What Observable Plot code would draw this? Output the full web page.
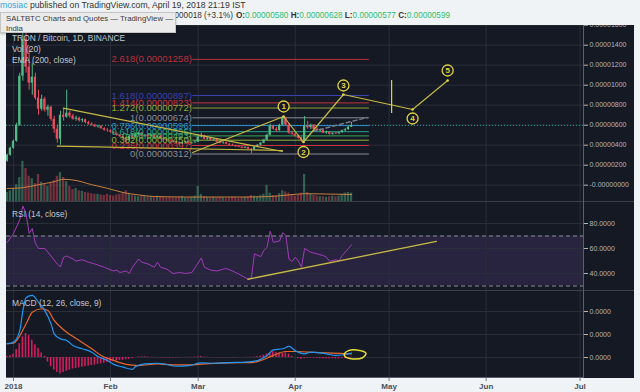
<!DOCTYPE html>
<html><head><meta charset="utf-8">
<script src="https://cdn.jsdelivr.net/npm/d3@7"></script>
<script src="https://cdn.jsdelivr.net/npm/@observablehq/plot@0.6"></script>
<style>
html,body{margin:0;padding:0;}
body{width:640px;height:392px;overflow:hidden;background:#f0f3f6;font-family:"Liberation Sans",Arial,sans-serif;position:relative;}
.abs{position:absolute;}
#dark{left:6px;top:25px;width:628px;height:353px;background:#151924;}
.pane{left:0;}
.hline{height:1px;background:#3b3f4a;left:6px;width:628px;}
.legend{color:#c3c6ce;font-size:8.4px;line-height:10px;white-space:nowrap;left:12px;}
#macd g[aria-label="x-axis tick label"]{font-weight:bold;font-size:8px;fill:#4c4f59;}
.hdr{font-size:8.7px;line-height:10px;white-space:nowrap;color:#333;}
.g{color:#2ebd6b;}
#tip{left:0;top:12px;width:176px;height:21px;background:#ebebeb;border:1px solid #c4c4c4;box-sizing:border-box;box-shadow:0 1px 2px rgba(0,0,0,0.25);font-size:7.8px;line-height:9.5px;color:#3a3a3a;padding:1px 0 0 5px;white-space:nowrap;}
</style></head><body>
<div id="dark" class="abs"></div>
<div id="price" class="abs pane" style="top:25px"></div>
<div id="vol" class="abs pane" style="top:141px"></div>
<div id="rsi" class="abs pane" style="top:202px"></div>
<div id="macd" class="abs pane" style="top:291px"></div>
<div class="abs hline" style="top:201px"></div>
<div class="abs hline" style="top:290px"></div>
<div class="abs" style="left:583px;top:25px;width:1px;height:353px;background:#5d606b"></div>
<div class="abs" style="left:6px;top:377px;width:578px;height:1px;background:#5d606b"></div>

<div class="abs legend" style="top:33px">TRON / Bitcoin, 1D, BINANCE</div>
<div class="abs legend" style="top:44px">Vol (20)</div>
<div class="abs legend" style="top:54.5px">EMA (200, close)</div>
<div class="abs legend" style="top:209px">RSI (14, close)</div>
<div class="abs legend" style="top:298px">MACD (12, 26, close, 9)</div>

<div class="abs hdr" style="left:0;top:0"><span style="color:#3aa4dc">mosiac</span> published on TradingView.com, April 19, 2018 21:19 IST</div>
<div class="abs hdr" style="right:407px;top:11px;font-size:8.2px">TRXBTC, 1D 0.00000599 ▲ +0.00000018 (+3.1%)</div>
<div class="abs hdr" style="left:236px;top:11px;font-size:8.2px"><b>O:</b><span class="g">0.00000580</span> <b>H:</b><span class="g">0.00000628</span> <b>L:</b><span class="g">0.00000577</span> <b>C:</b><span class="g">0.00000599</span></div>
<div id="tip" class="abs">SALTBTC Charts and Quotes — TradingView —<br>India</div>

<script>
// ---------- data (prices in satoshi, 1e-8 BTC; day = days since 2018-01-01) ----------
const candleDays = d3.range(-2, 109);
const opens = [
240,300,370,440,600,1090,1460,1180,1020,1080,
870,760,860,750,780,660,560,460,700,680,
720,690,660,670,645,655,625,610,600,585,
590,565,550,545,530,515,500,485,470,450,
490,480,505,520,490,500,485,500,475,490,
465,455,445,440,430,420,410,425,435,420,
425,430,480,495,460,470,450,455,430,420,
425,410,400,395,385,380,370,378,360,350,
380,400,420,450,500,590,560,545,600,670,
600,520,510,490,470,445,590,575,600,560,
545,550,520,530,510,520,515,525,545,555,
580];
const highs = [
310,380,450,620,1120,1720,1640,1380,1220,1120,
950,900,880,800,790,690,600,740,760,950,
740,710,690,680,665,660,640,625,610,600,
595,575,565,555,540,525,510,495,480,500,
510,520,530,525,505,510,510,505,495,495,
475,465,455,445,440,425,430,440,440,430,
440,500,520,500,480,475,465,460,440,435,
430,415,410,400,395,385,385,380,365,385,
405,425,460,510,610,600,575,610,687,680,
615,540,525,500,480,687,640,610,605,575,
560,555,540,535,525,530,530,550,565,590,
628];
const lows = [
230,290,360,430,590,1040,1120,950,900,850,
700,740,730,690,640,520,420,400,640,670,
670,650,640,630,625,615,600,590,575,570,
560,540,530,520,505,490,475,455,410,440,
470,470,490,480,470,480,480,470,465,460,
445,435,425,420,410,400,405,415,415,410,
415,425,470,455,450,445,440,425,415,410,
405,395,390,380,375,365,365,355,312,345,
375,395,415,445,495,550,530,540,595,590,
510,500,480,460,427,440,560,555,555,535,
530,515,510,500,500,505,505,520,535,550,
577];
const closes = [
300,370,440,600,1090,1460,1180,1020,1080,870,
760,860,750,780,660,560,460,700,680,720,
690,660,670,645,655,625,610,600,585,590,
565,550,545,530,515,500,485,470,450,490,
480,505,520,490,500,485,500,475,490,465,
455,445,440,430,420,410,425,435,420,425,
430,480,495,460,470,450,455,430,420,425,
410,400,395,385,380,370,378,360,350,380,
400,420,450,500,590,560,545,600,670,600,
520,510,490,470,445,590,575,600,560,545,
550,520,530,510,520,515,525,545,555,580,
599];
const volumes = [
15,18,22,28,40,67,55,42,38,30,
45,32,28,25,30,35,42,48,40,33,
25,20,22,18,17,15,14,13,12,12,
11,10,12,10,9,11,12,14,18,13,
10,9,8,10,9,8,8,7,9,8,
7,6,7,6,6,7,8,6,6,7,
9,25,12,8,7,6,7,6,7,6,
5,6,7,6,5,6,7,8,10,9,
8,10,12,27,14,10,9,13,18,16,
14,10,9,11,14,45,15,12,10,9,
8,8,7,8,9,8,9,12,14,15,
14];
const volMaDays = [-2,3,8,13,16,20,25,30,35,40,45,55,65,75,82,88,93,100,108];
const volMaVals = [21.7,23,28,33,37,35,28,22,15,11,8.3,7.5,7.5,7.5,8.3,11,13,12.5,11.7];

const priceTicks = [0,200,400,600,800,1000,1200,1400,1600];
const monthTicks = [0,31,59,90,120,151,181];
const monthLabels = ["2018","Feb","Mar","Apr","May","Jun","Jul"];

const fibLevels = ["2.618","1.618","1.414","1.272","1","0.786","0.618","0.5","0.382","0.236","0"];
const fibVals = [1258,897,823,772,674,596,535,493,450,397,312];
const fibColors = ["#b8323d","#3a3fb0","#c9333e","#8fa83a","#8a8c94","#2b8fcf","#22a58a","#3aa85a","#8fb33a","#c9333e","#8a8c94"];
const fibStartDay = 57.3, fibEndDay = 113.7;
const lastClose = 599;

const waveDays = [57.2, 86.3, 92.65, 105.4, 127.5, 138.7];
const waveVals = [327, 687, 432, 907, 757, 1047];
const waveNames = ["", "1", "2", "3", "4", "5"];
const waveOffsets = [0, -10, 10, -9, 9, -10];
const triUpperDays = [15.9, 85.9], triUpperVals = [770, 337];
const triLowerDays = [14, 85.9], triLowerVals = [390, 347];
const vLineDay = [120.8], vLineLow = [717], vLineHigh = [1047];
const dashDays = [95.5, 113], dashVals = [537, 677];

const rsiDays = [-2,0,2,3,4,5,6,7,8,10,12,14,15,16,17,19,20,22,24,26,29,32,33,34,36,37,38,40,41,43,45,46,47,49,51,53,55,57,60,61,63,65,67,68,70,72,75,76,77,79,80,81,82,83,85,86,87,88,89,90,91,92,93,95,97,99,100,101,103,104,105,107,108];
const rsiVals = [65,72,83,94,88,72,76,64,60,60,54,47.6,45.4,53,54,51.6,50,51,49,47.6,45,42,42.7,40.8,42,40,45,51.6,49,47.6,45,49,45,43.5,40,40.8,40,40.8,52.4,45,42.7,42,43.5,44,42,39.5,35.4,36.8,55.7,53.5,58.4,61,73.8,65,66,72.7,70.5,51.6,49.5,53,50,45,60,57,55.7,54.3,53,49.7,51,50,54.3,60,63];
const rsiTicks = [40,60,80];
const rsiBand = [30,70];
const rsiTrendDays = [74.9, 135.1], rsiTrendVals = [35.4, 65.7];

const macdDays = [-2,0,2,3,4,6,8,10,12,13,15,17,19,22,25,27,30,32,35,38,39,42,46,48,52,56,60,64,69,74,78,81,83,86,88,90,93,95,98,100,103,106,108];
const macdVals = [30,33.5,58.5,102,130,135,120,102,73,51.5,40.5,37,26,19,11.5,2,-6.5,-15,-21,-26,-19.5,-14,-12.5,-14,-19,-17.5,-11.5,-12.5,-11,-10,-6.5,4.5,16.5,19,24,15,8,11.5,10,8,4.5,6.5,9.5];
const signalDays = [-2,0,4,6,9,11,13,17,21,25,28,32,36,40,46,51,56,61,69,76,79,83,87,91,96,102,108];
const signalVals = [30,31,73,98.5,106,102,80.5,55,37,19,4.5,-6.5,-15,-17.5,-14,-16,-16,-14,-11.5,-11,-6.5,4.5,13,13,11,9.5,8];
const macdHist = [
2.5,4,7.5,17.5,30,45,52,47.5,37.5,27.5,
20,10,2.5,-10,-20,-27.5,-32.5,-36,-32.5,-30,
-27.5,-25,-24,-22.5,-21,-20,-19,-17.5,-16.5,-15,
-14,-12.5,-11,-10,-9,-7.5,-6.5,-6,-5,-4,
-2.5,0,1,1.5,1.5,1,0.5,0.5,0,-0.5,
-1,-1,-1.5,-1,-1,-0.5,0,0.5,0.5,0.5,
1,1.5,2,1,0.5,0,-0.5,-0.5,-0.5,-0.5,
-0.5,-0.5,-0.5,-0.5,0,0,0.5,0.5,0.5,1,
2,3,5,7.5,10,12.5,11,10,9,10,
7.5,2.5,0,-2.5,-4,-2.5,-1.5,-1,-1.5,-2,
-2.5,-3,-3,-3,-2.5,-3,-3,-2.5,-2,-1.5,
1];
const macdTicks = [0,50,100];
const loopDays = [105.7,107,109.6,112.6,111.5,108.3,105.9];
const loopVals = [8,15,16.5,9.5,-0.5,-3,2];

// ---------- build ----------
const UP = "#53b987", DOWN = "#eb4d5c", GRID = "#2a2e39", YEL = "#c5b944", YEL2 = "#e3d443";
const xDomain = [-2.236, 182.1];
const candles = candleDays.map((day, i) => ({day, open: opens[i], high: highs[i], low: lows[i], close: closes[i], vol: volumes[i], hist: macdHist[i], col: closes[i] >= opens[i] ? UP : DOWN}));
const zip = (a, b) => a.map((d, i) => ({day: d, v: b[i]}));
const fib = fibLevels.map((l, i) => ({level: l, v: fibVals[i], color: fibColors[i]}));
const wave = zip(waveDays, waveVals).map((d, i) => ({...d, name: waveNames[i], off: waveOffsets[i]}));
const style = {background: "transparent", color: "#b2b5be", fontFamily: '"Liberation Sans", Arial, sans-serif', fontSize: "7px", overflow: "hidden"};
const base = {width: 634, marginLeft: 6, marginRight: 51, marginTop: 0, style, color: {type: "identity"}};
const fmtPrice = v => v === 0 ? "-0.00000000" : (v * 1e-8).toFixed(8);
const monthLabel = new Map(monthTicks.map((t, i) => [t, monthLabels[i]]));
const bodyX1 = d => d.day - 0.36, bodyX2 = d => d.day + 0.36;

const price = Plot.plot({
  ...base, height: 177, marginBottom: 0,
  x: {domain: xDomain, axis: null},
  y: {domain: [-173, 1597], label: null},
  marks: [
    Plot.gridY(priceTicks, {stroke: GRID, strokeOpacity: 1}),
    Plot.gridX(monthTicks, {stroke: GRID, strokeOpacity: 1}),
    Plot.axisY(priceTicks, {anchor: "right", label: null, tickFormat: fmtPrice, tickSize: 4, tickPadding: 2, color: "#b2b5be"}),
    Plot.ruleY([lastClose], {stroke: "#26a69a", strokeDasharray: "1,2"}),
    Plot.ruleY(fib, {y: "v", x1: () => fibStartDay, x2: () => fibEndDay, stroke: d => d.color, strokeWidth: 1}),
    Plot.ruleX(candles, {x: "day", y1: "low", y2: "high", stroke: "col", clip: true}),
    Plot.rect(candles, {x1: bodyX1, x2: bodyX2, y1: "open", y2: "close", fill: "col", clip: true}),
    Plot.line(zip(dashDays, dashVals), {x: "day", y: "v", stroke: "#787b86", strokeDasharray: "4,3"}),
    Plot.text(fib, {x: () => fibStartDay, y: "v", text: d => `${d.level}(${(d.v * 1e-8).toFixed(8)})`, textAnchor: "end", dx: -1, fill: d => d.color, fontSize: 9.5}),
    Plot.line(zip(triUpperDays, triUpperVals), {x: "day", y: "v", stroke: YEL, strokeWidth: 1.2}),
    Plot.line(zip(triLowerDays, triLowerVals), {x: "day", y: "v", stroke: YEL, strokeWidth: 1.2}),
    Plot.line(wave, {x: "day", y: "v", stroke: YEL, strokeWidth: 1.2}),
    Plot.ruleX(vLineDay, {x: d => d, y1: (d, i) => vLineLow[i], y2: (d, i) => vLineHigh[i], stroke: YEL2, strokeWidth: 1.2}),
    Plot.dot(wave.slice(1), {x: "day", y: "v", r: 1.3, fill: YEL2}),
    ...wave.slice(1).map(w => Plot.dot([w], {x: "day", y: "v", dy: w.off, r: 5.5, stroke: YEL2, fill: "#151924", strokeWidth: 1.3})),
    ...wave.slice(1).map(w => Plot.text([w], {x: "day", y: "v", dy: w.off, text: "name", fill: YEL2, fontSize: 8, fontWeight: "bold"}))
  ]
});
document.getElementById("price").append(price);

const vol = Plot.plot({
  ...base, height: 60, marginBottom: 0,
  x: {domain: xDomain, axis: null},
  y: {domain: [0, 100], axis: null},
  marks: [
    Plot.rect(candles, {x1: bodyX1, x2: bodyX2, y1: 0, y2: "vol", fill: "col", fillOpacity: 0.45, clip: true}),
    Plot.line(zip(volMaDays, volMaVals), {x: "day", y: "v", stroke: "#c9803d", strokeWidth: 1, curve: "monotone-x"})
  ]
});
document.getElementById("vol").append(vol);

const rsi = Plot.plot({
  ...base, height: 88, marginBottom: 0,
  x: {domain: xDomain, axis: null},
  y: {domain: [26.4, 96.8], label: null},
  marks: [
    Plot.rect([rsiBand], {x1: () => xDomain[0], x2: () => xDomain[1], y1: d => d[0], y2: d => d[1], fill: "#7e57c2", fillOpacity: 0.18}),
    Plot.gridY(rsiTicks, {stroke: GRID, strokeOpacity: 1}),
    Plot.gridX(monthTicks, {stroke: GRID, strokeOpacity: 1}),
    Plot.ruleY(rsiBand, {stroke: "#8a8d96", strokeDasharray: "4,3"}),
    Plot.axisY(rsiTicks, {anchor: "right", label: null, tickFormat: d => d.toFixed(4), tickSize: 4, tickPadding: 2, color: "#b2b5be"}),
    Plot.line(zip(rsiDays, rsiVals), {x: "day", y: "v", stroke: "#a13bb8", strokeWidth: 1, clip: true}),
    Plot.line(zip(rsiTrendDays, rsiTrendVals), {x: "day", y: "v", stroke: YEL, strokeWidth: 1.3})
  ]
});
document.getElementById("rsi").append(rsi);

const macd = Plot.plot({
  ...base, height: 101, marginBottom: 14,
  x: {domain: xDomain, label: null},
  y: {domain: [-45.65, 143.5], label: null},
  marks: [
    Plot.gridY(macdTicks, {stroke: GRID, strokeOpacity: 1}),
    Plot.gridX(monthTicks, {stroke: GRID, strokeOpacity: 1}),
    Plot.axisY(macdTicks, {anchor: "right", label: null, tickFormat: d => (d * 1e-8).toFixed(4), tickSize: 4, tickPadding: 2, color: "#b2b5be"}),
    Plot.axisX(monthTicks, {anchor: "bottom", label: null, tickFormat: d => monthLabel.get(d), tickSize: 3, tickPadding: 2, color: "#787b86"}),
    Plot.rect(candles, {x1: d => d.day - 0.25, x2: d => d.day + 0.25, y1: 0, y2: "hist", fill: "#d81b60", clip: true}),
    Plot.line(zip(signalDays, signalVals), {x: "day", y: "v", stroke: "#e8672c", strokeWidth: 1.2, curve: "monotone-x"}),
    Plot.line(zip(macdDays, macdVals), {x: "day", y: "v", stroke: "#2196f3", strokeWidth: 1.2, curve: "monotone-x"}),
    Plot.line(zip(loopDays, loopVals), {x: "day", y: "v", stroke: "#e8e03a", strokeWidth: 1.5, curve: "catmull-rom-closed"})
  ]
});
document.getElementById("macd").append(macd);
</script>
</body></html>
